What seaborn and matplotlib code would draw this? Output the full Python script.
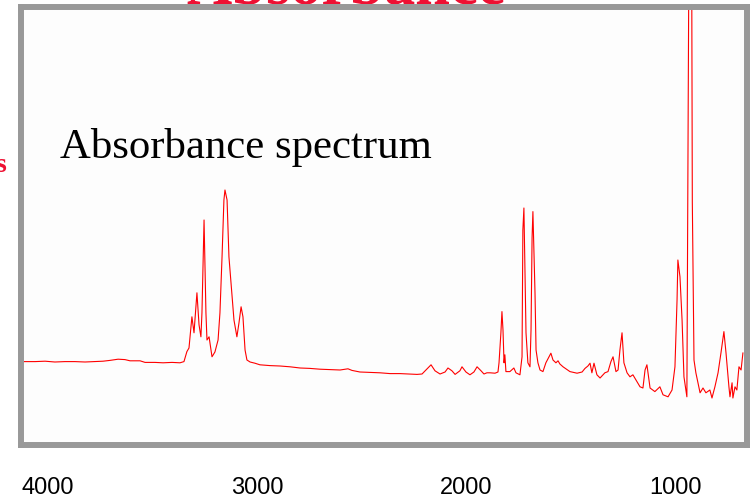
import matplotlib
matplotlib.use("Agg")
import matplotlib.pyplot as plt
import pandas as pd
import seaborn as sns

# IR absorbance spectrum
wavenumber = [
    4115, 4062, 4014, 3967, 3919, 3871, 3823, 3775, 3737, 3704, 3665, 3632,
    3608, 3560, 3536, 3489, 3450, 3407, 3369, 3350, 3336, 3326, 3312, 3302,
    3288, 3278, 3269, 3264, 3254, 3245, 3240, 3230, 3216, 3202, 3187, 3178,
    3168, 3159, 3154, 3144, 3135, 3120, 3111, 3097, 3087, 3077, 3068, 3058,
    3049, 3034, 3011, 2987, 2939, 2891, 2843, 2795, 2748, 2700, 2652, 2604,
    2566, 2547, 2509, 2461, 2413, 2365, 2317, 2270, 2236, 2212, 2188, 2169,
    2150, 2126, 2102, 2088, 2069, 2054, 2031, 2021, 2002, 1983, 1964, 1949,
    1930, 1916, 1902, 1887, 1863, 1849, 1844, 1835, 1830, 1825, 1820, 1816,
    1811, 1792, 1773, 1763, 1744, 1734, 1730, 1725, 1715, 1706, 1696, 1691,
    1686, 1682, 1672, 1667, 1658, 1648, 1634, 1620, 1605, 1596, 1586, 1572,
    1562, 1553, 1538, 1505, 1471, 1447, 1433, 1419, 1409, 1400, 1390, 1376,
    1361, 1338, 1323, 1309, 1299, 1285, 1275, 1266, 1256, 1247, 1232, 1218,
    1204, 1189, 1170, 1156, 1146, 1137, 1122, 1099, 1075, 1060, 1036, 1017,
    1003, 993, 989, 979, 969, 960, 946, 941, 935, 924, 920, 912,
    903, 883, 869, 855, 836, 826, 812, 797, 783, 769, 759, 745,
    740, 730, 726, 716, 707, 697, 687, 678,
]
absorbance = [
    0.201, 0.201, 0.202, 0.200, 0.201, 0.201, 0.200, 0.201, 0.202, 0.204, 0.207, 0.206,
    0.203, 0.203, 0.199, 0.199, 0.198, 0.199, 0.198, 0.201, 0.226, 0.235, 0.313, 0.273,
    0.373, 0.293, 0.263, 0.323, 0.555, 0.323, 0.255, 0.263, 0.213, 0.225, 0.255, 0.323,
    0.463, 0.605, 0.630, 0.605, 0.463, 0.363, 0.305, 0.263, 0.298, 0.338, 0.313, 0.230,
    0.205, 0.200, 0.197, 0.193, 0.191, 0.190, 0.188, 0.185, 0.184, 0.182, 0.181, 0.180,
    0.183, 0.179, 0.175, 0.174, 0.173, 0.171, 0.171, 0.170, 0.169, 0.170, 0.183, 0.193,
    0.178, 0.170, 0.175, 0.185, 0.178, 0.169, 0.178, 0.188, 0.175, 0.168, 0.175, 0.188,
    0.178, 0.170, 0.173, 0.173, 0.172, 0.175, 0.198, 0.273, 0.326, 0.280, 0.198, 0.218,
    0.176, 0.176, 0.185, 0.173, 0.168, 0.213, 0.530, 0.585, 0.273, 0.198, 0.188, 0.280,
    0.510, 0.576, 0.373, 0.230, 0.198, 0.180, 0.176, 0.198, 0.213, 0.222, 0.205, 0.198,
    0.203, 0.195, 0.188, 0.176, 0.172, 0.175, 0.184, 0.190, 0.197, 0.173, 0.197, 0.168,
    0.160, 0.173, 0.176, 0.201, 0.213, 0.176, 0.180, 0.230, 0.273, 0.198, 0.173, 0.163,
    0.168, 0.155, 0.138, 0.135, 0.180, 0.193, 0.135, 0.126, 0.138, 0.118, 0.113, 0.130,
    0.188, 0.355, 0.455, 0.413, 0.305, 0.163, 0.113, 0.655, 1.400, 1.400, 0.600, 0.205,
    0.173, 0.123, 0.135, 0.123, 0.130, 0.110, 0.138, 0.173, 0.223, 0.276, 0.223, 0.138,
    0.113, 0.148, 0.110, 0.138, 0.130, 0.188, 0.180, 0.223,
]
tick_values = [4000, 3000, 2000, 1000]
inner_label = "Absorbance spectrum"
top_label = "Absorbance"

df = pd.DataFrame({"wavenumber": wavenumber, "absorbance": absorbance})

sns.set_theme(style="white")
plt.rcParams["font.family"] = ["Liberation Sans", "DejaVu Sans"]

fig = plt.figure(figsize=(7.53, 4.98), dpi=100)
fig.patch.set_facecolor("white")

serif = ["Liberation Serif", "DejaVu Serif"]

# big red title behind the frame, mostly cut off by the top edge
fig.text(346 / 753, 1 - 3 / 498, top_label, ha="center", va="baseline",
         fontsize=45, fontweight="bold", color="#ee1133",
         family=serif, zorder=-1)
# a sliver of another red label at the left edge
fig.text(6 / 753, 1 - 172 / 498, "s", ha="right", va="baseline",
         fontsize=20, fontweight="bold", color="#ee1133", family=serif)

ax = fig.add_axes([21 / 753, 53 / 498, 725.5 / 753, 438 / 498])
ax.set_facecolor("#fdfdfd")

sns.lineplot(data=df, x="wavenumber", y="absorbance", ax=ax, sort=False,
             estimator=None, color="#ff0000", linewidth=0.8)

ax.set_xlim(4129, 661)
ax.set_ylim(-0.0075, 1.0875)
ax.set_xticks(tick_values)
ax.set_xticklabels([str(v) for v in tick_values])
ax.set_yticks([])
ax.set_xlabel(None)
ax.set_ylabel(None)
ax.tick_params(axis="x", length=0, pad=23, labelsize=17, colors="black")

for side in ["left", "right", "top", "bottom"]:
    ax.spines[side].set_visible(True)
    ax.spines[side].set_color("#999999")
    ax.spines[side].set_linewidth(4.3)

fig.text(60 / 753, 1 - 158 / 498, inner_label, ha="left", va="baseline",
         fontsize=30.8, color="black", family=serif)

fig.savefig("out.png", dpi=100)
plt.close(fig)
